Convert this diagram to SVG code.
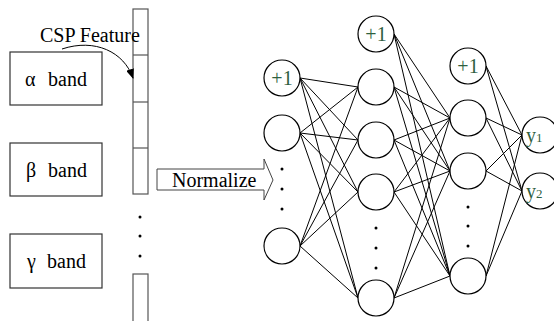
<svg xmlns="http://www.w3.org/2000/svg" width="554" height="321" viewBox="0 0 554 321">
<style>
.t{font-family:"Liberation Serif","Times New Roman",serif;font-size:20px;fill:#000}
.g{font-family:"Liberation Serif","Times New Roman",serif;font-size:20px;fill:#2f5f3f}
.box{fill:#fff;stroke:#333;stroke-width:1.2}
.col{fill:#fff;stroke:#555;stroke-width:1.2}
.n{fill:#fff;stroke:#000;stroke-width:1.2}
.e{stroke:#000;stroke-width:1;fill:none}
.d{fill:#000}
</style>
<defs>
<marker id="ah" markerWidth="10" markerHeight="8" refX="9" refY="4" orient="auto" markerUnits="userSpaceOnUse">
<path d="M0,0 L10,4 L0,8 Z" fill="#000"/>
</marker>
</defs>
<rect width="554" height="321" fill="#fff"/>

<g id="alpha-band"><rect class="box" x="10" y="52" width="92" height="53"/><text class="t" y="86"><tspan x="25">α</tspan><tspan x="48">band</tspan></text></g>
<g id="beta-band"><rect class="box" x="10" y="143" width="92" height="53"/><text class="t" y="177"><tspan x="26">β</tspan><tspan x="48">band</tspan></text></g>
<g id="gamma-band"><rect class="box" x="10" y="234" width="92" height="54"/><text class="t" y="268"><tspan x="27">γ</tspan><tspan x="47">band</tspan></text></g>

<g id="feature-vector">
<rect class="col" x="133" y="9" width="15" height="185"/>
<line class="col" x1="133" y1="55" x2="148" y2="55"/>
<line class="col" x1="133" y1="102" x2="148" y2="102"/>
<line class="col" x1="133" y1="148" x2="148" y2="148"/>
<circle class="d" cx="140" cy="217" r="1.5"/><circle class="d" cx="140" cy="236" r="1.5"/><circle class="d" cx="140" cy="256" r="1.5"/>
<rect class="col" x="133" y="274" width="15" height="60"/>
</g>
<text class="t" x="40" y="42">CSP Feature</text>

<g id="normalize">
<polygon points="157,169 264,169 264,159 273,180 264,200 264,190 157,190" fill="#fff" stroke="#444" stroke-width="1"/>
<text class="t" x="172" y="187">Normalize</text>
</g>

<g id="connectors">
<path class="e" d="M62,49 C95,38 124,52 133,78" marker-end="url(#ah)"/>
<path class="e" d="M300,78L358,87M300,78L358,140M300,78L358,192M300,78L358,298M300,133L358,87M300,133L358,140M300,133L358,192M300,133L358,298M300,246L358,87M300,246L358,140M300,246L358,192M300,246L358,298"/>
<path class="e" d="M394,34L450,118M394,34L450,171M394,34L450,276M394,87L450,118M394,87L450,171M394,87L450,276M394,140L450,118M394,140L450,171M394,140L450,276M394,192L450,118M394,192L450,171M394,192L450,276M394,298L450,118M394,298L450,171M394,298L450,276"/>
<path class="e" d="M486,66L522,135M486,66L522,191M486,118L522,135M486,118L522,191M486,171L522,135M486,171L522,191M486,276L522,135M486,276L522,191"/>
</g>

<g id="in-bias"><circle class="n" cx="282" cy="78" r="18"/><text class="g" x="282" y="85" text-anchor="middle">+1</text></g>
<g id="in-1"><circle class="n" cx="282" cy="133" r="18"/></g>
<g id="in-dots"><circle class="d" cx="282" cy="169" r="1.5"/><circle class="d" cx="282" cy="189" r="1.5"/><circle class="d" cx="282" cy="209" r="1.5"/></g>
<g id="in-n"><circle class="n" cx="282" cy="246" r="18"/></g>

<g id="h1-bias"><circle class="n" cx="376" cy="34" r="18"/><text class="g" x="376" y="41" text-anchor="middle">+1</text></g>
<g id="h1-1"><circle class="n" cx="376" cy="87" r="18"/></g>
<g id="h1-2"><circle class="n" cx="376" cy="140" r="18"/></g>
<g id="h1-3"><circle class="n" cx="376" cy="192" r="18"/></g>
<g id="h1-dots"><circle class="d" cx="376" cy="228" r="1.5"/><circle class="d" cx="376" cy="248" r="1.5"/><circle class="d" cx="376" cy="268" r="1.5"/></g>
<g id="h1-n"><circle class="n" cx="376" cy="298" r="18"/></g>

<g id="h2-bias"><circle class="n" cx="468" cy="66" r="18"/><text class="g" x="468" y="73" text-anchor="middle">+1</text></g>
<g id="h2-1"><circle class="n" cx="468" cy="118" r="18"/></g>
<g id="h2-2"><circle class="n" cx="468" cy="171" r="18"/></g>
<g id="h2-dots"><circle class="d" cx="468" cy="207" r="1.5"/><circle class="d" cx="468" cy="226" r="1.5"/><circle class="d" cx="468" cy="246" r="1.5"/></g>
<g id="h2-n"><circle class="n" cx="468" cy="276" r="18"/></g>

<g id="out-y1"><circle class="n" cx="540" cy="135" r="18"/><text class="g" x="526" y="142" font-size="22">y<tspan font-size="13">1</tspan></text></g>
<g id="out-y2"><circle class="n" cx="540" cy="191" r="18"/><text class="g" x="526" y="198" font-size="22">y<tspan font-size="13">2</tspan></text></g>
</svg>
